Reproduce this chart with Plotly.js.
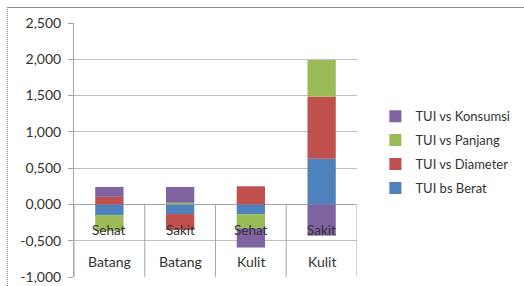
<!DOCTYPE html>
<html>
<head>
<meta charset="utf-8">
<script src="https://cdn.plot.ly/plotly-3.0.1.min.js"></script>
<style>
  html, body { margin: 0; padding: 0; background: #fff; }
  #wrap { position: relative; width: 524px; height: 286px; overflow: hidden; }
  #chart { width: 524px; height: 286px; }
  #frame { position: absolute; left: 7px; top: 7px; width: 600px; height: 400px;
           border-left: 1px dotted #8c8c8c; border-top: 1px solid #8c8c8c; pointer-events: none; }
</style>
</head>
<body>
<div id="wrap">
  <div id="chart"></div>
  <div id="frame"></div>
</div>
<script>
// Categories (outer / inner levels)
var outerLabels = ["Batang", "Batang", "Kulit", "Kulit"];
var innerLabels = ["Sehat", "Sakit", "Sehat", "Sakit"];
var catKeys = ["Batang Sehat", "Batang Sakit", "Kulit Sehat", "Kulit Sakit"];

// Series values
var berat     = [-0.147, -0.133, -0.133, 0.630];
var diameter  = [ 0.104, -0.219,  0.250, 0.853];
var panjang   = [-0.219,  0.022, -0.196, 0.507];
var konsumsi  = [ 0.137,  0.219, -0.265, -0.430];

var seriesNames  = ["TUI bs Berat", "TUI vs Diameter", "TUI vs Panjang", "TUI vs Konsumsi"];
var seriesValues = [berat, diameter, panjang, konsumsi];
var seriesColors = ["#4F81BD", "#C0504D", "#9BBB59", "#8064A2"];

// Y tick labels
var yTickVals = [-1, -0.5, 0, 0.5, 1, 1.5, 2, 2.5];
var yTickText = ["-1,000", "-0,500", "0,000", "0,500", "1,000", "1,500", "2,000", "2,500"];

var FONT = "Lato, 'Open Sans', sans-serif";
var TXT = "#333333";

var traces = seriesNames.map(function (name, i) {
  return {
    type: "bar",
    name: name,
    x: catKeys,
    y: seriesValues[i],
    width: 0.4,
    marker: { color: seriesColors[i], line: { width: 0 } },
    legendgroup: "g" + i,
    legendrank: seriesNames.length - i,
    hoverinfo: "name+y"
  };
});

var shapes = [];
for (var k = 0; k <= catKeys.length; k++) {
  shapes.push({
    type: "line", xref: "x", yref: "y",
    x0: k - 0.5, x1: k - 0.5, y0: 0, y1: -1,
    line: { color: "#A6A6A6", width: 1 }
  });
}

var annotations = [];
catKeys.forEach(function (c, i) {
  annotations.push({
    x: c, y: -0.35, xref: "x", yref: "y", text: innerLabels[i],
    showarrow: false, font: { family: FONT, size: 13.5, color: TXT }
  });
  annotations.push({
    x: c, y: -0.79, xref: "x", yref: "y", text: outerLabels[i],
    showarrow: false, font: { family: FONT, size: 14, color: TXT }
  });
});

var layout = {
  width: 524, height: 286,
  margin: { l: 74, r: 140, t: 23, b: 9, pad: 0 },
  paper_bgcolor: "#fff", plot_bgcolor: "#fff",
  barmode: "relative",
  bargap: 0.6,
  showlegend: true,
  font: { family: FONT, size: 13, color: TXT },
  xaxis: {
    type: "category",
    categoryorder: "array", categoryarray: catKeys,
    range: [-0.5, 3.5],
    showticklabels: false, ticks: "",
    showgrid: false, zeroline: false, showline: false,
    fixedrange: true
  },
  yaxis: {
    range: [-1, 2.5],
    tickmode: "array", tickvals: yTickVals, ticktext: yTickText,
    ticks: "outside", ticklen: 5, tickcolor: "#A6A6A6",
    ticklabelstandoff: 4,
    showgrid: true, gridcolor: "#BFBFBF", gridwidth: 1,
    zeroline: true, zerolinecolor: "#A6A6A6", zerolinewidth: 1,
    showline: true, linecolor: "#A6A6A6", linewidth: 1,
    tickfont: { family: FONT, size: 14, color: TXT },
    fixedrange: true
  },
  legend: {
    x: 1.065, xanchor: "left", y: 0.692, yanchor: "top",
    traceorder: "grouped",
    tracegroupgap: 4,
    font: { family: FONT, size: 13, color: TXT },
    bgcolor: "rgba(0,0,0,0)"
  },
  shapes: shapes,
  annotations: annotations
};

Plotly.newPlot("chart", traces, layout, { displayModeBar: false, staticPlot: true });
</script>
</body>
</html>
